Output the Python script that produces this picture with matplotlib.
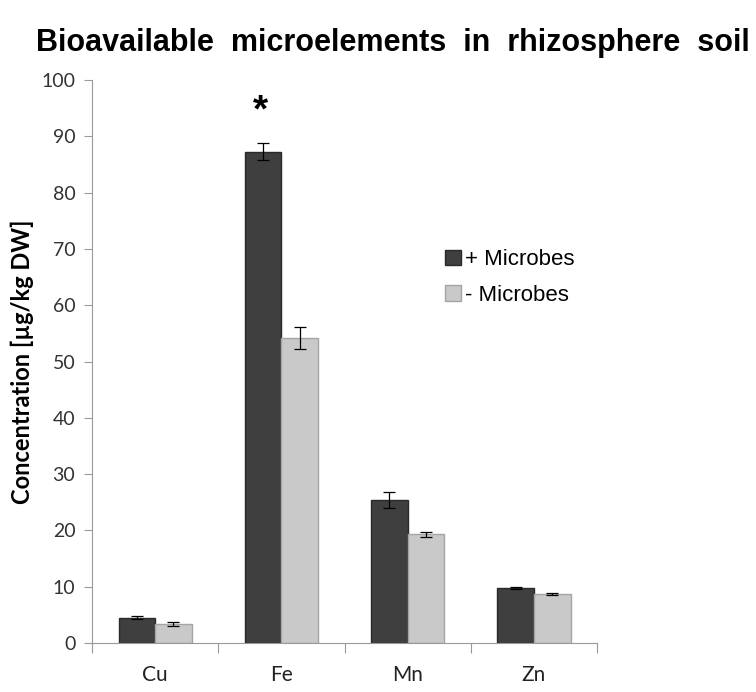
import numpy as np
import matplotlib.pyplot as plt

elements = ['Cu', 'Fe', 'Mn', 'Zn']
with_microbes = [4.5, 87.3, 25.4, 9.8]
with_microbes_err = [0.3, 1.5, 1.4, 0.15]
without_microbes = [3.4, 54.2, 19.3, 8.7]
without_microbes_err = [0.3, 2.0, 0.5, 0.15]

fig = plt.figure(figsize=(7.56, 6.92), dpi=100)
ax = fig.add_axes([0.1217, 0.0708, 0.668, 0.8135])

x = np.arange(len(elements))
w = 0.29

ax.bar(x - w / 2, with_microbes, w, color='#3f3f3f', edgecolor='#2a2a2a',
       linewidth=1, yerr=with_microbes_err, capsize=4,
       error_kw=dict(ecolor='black', elinewidth=0.9, capthick=0.9),
       label='+ Microbes')
ax.bar(x + w / 2, without_microbes, w, color='#c9c9c9', edgecolor='#a5a5a5',
       linewidth=1, yerr=without_microbes_err, capsize=4,
       error_kw=dict(ecolor='black', elinewidth=0.9, capthick=0.9),
       label='- Microbes')

# significance marker
ax.text(x[1] - w / 2 - 0.02, with_microbes[1] + 4.0, '*', ha='center', va='bottom',
        fontsize=28, fontweight='bold', family='Liberation Sans')

ax.set_xlim(-0.5, 3.5)
ax.set_ylim(0, 100)
ax.set_yticks(np.arange(0, 101, 10))
ax.set_xticks(np.arange(-0.5, 3.6, 1))
ax.set_xticks(x, minor=True)
ax.set_xticklabels([])
ax.set_xticklabels(elements, minor=True)
ax.tick_params(axis='x', which='major', length=7, color='#999999', direction='out')
ax.tick_params(axis='x', which='minor', length=0, pad=16, labelsize=15,
               labelcolor='#222222')
ax.tick_params(axis='y', length=6, color='#999999', labelsize=14,
               labelcolor='#333333', pad=6)
for lbl in ax.get_xticklabels(minor=True) + ax.get_yticklabels():
    lbl.set_family('Lato')

for s in ['top', 'right']:
    ax.spines[s].set_visible(False)
for s in ['left', 'bottom']:
    ax.spines[s].set_color('#999999')

ax.set_ylabel('Concentration [\u00b5g/kg DW]', fontsize=17, fontweight='bold',
              family='Lato')
ax.yaxis.set_label_coords(-0.115, 0.5)

leg = ax.legend(loc='upper left', bbox_to_anchor=(0.66, 0.735), frameon=False,
                prop={'family': 'Liberation Sans', 'size': 16},
                handlelength=0.7, handleheight=0.7, handletextpad=0.2,
                labelspacing=0.65)

fig.text(0.52, 0.938, 'Bioavailable  microelements  in  rhizosphere  soil',
         ha='center', va='center', fontsize=22, fontweight='bold',
         family='Liberation Sans')

fig.savefig('out.png', dpi=100)
